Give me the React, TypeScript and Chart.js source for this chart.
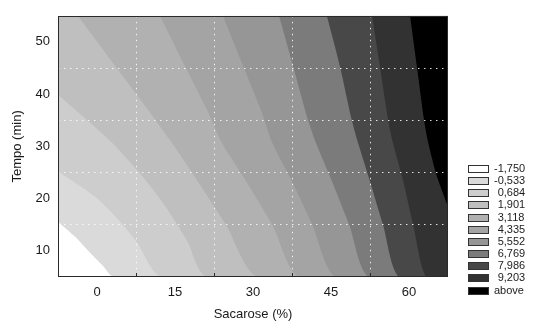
import React, { useEffect, useRef } from 'react';
import { Chart, registerables } from 'chart.js';

Chart.register(...registerables);

// Axis ranges and ticks
const X_MIN = -7.5;
const X_MAX = 67.5;
const Y_MIN = 5;
const Y_MAX = 55;
const xTickValues = [-7.5, 0, 7.5, 15, 22.5, 30, 37.5, 45, 52.5, 60, 67.5];
const xLabelValues = [0, 15, 30, 45, 60];
const xGridValues = [7.5, 22.5, 37.5, 52.5];
const yTickValues = [5, 10, 15, 20, 25, 30, 35, 40, 45, 50, 55];
const yLabelValues = [10, 20, 30, 40, 50];
const yGridValues = [15, 25, 35, 45];

// Contour levels (legend) and band colours (lowest -> "above")
const levelLabels = ['-1,750', '-0,533', '0,684', '1,901', '3,118', '4,335', '5,552', '6,769', '7,986', '9,203', 'above'];
const bandColors = ['#ffffff', '#dadada', '#cdcdcd', '#bfbfbf', '#b1b1b1', '#a4a4a4', '#969696', '#7b7b7b', '#484848', '#323232', '#000000'];

// Contour boundaries (Sacarose %, Tempo min)
const boundary1 = [{ x: -7.5, y: 15.6 }, { x: -4.2, y: 12.7 }, { x: -1.4, y: 9.7 }, { x: 1.0, y: 7.3 }, { x: 3.3, y: 5 }];
const boundary2 = [{ x: -7.5, y: 25.2 }, { x: -3.7, y: 22.7 }, { x: 0.2, y: 19.9 }, { x: 4.0, y: 16.1 }, { x: 7.7, y: 11.6 }, { x: 12.5, y: 5 }];
const boundary3 = [{ x: -7.5, y: 39.9 }, { x: -2.3, y: 35.4 }, { x: 2.9, y: 30.7 }, { x: 8.3, y: 24.8 }, { x: 13.1, y: 18.6 }, { x: 17.3, y: 12.0 }, { x: 21.2, y: 5 }];
const boundary4 = [{ x: -3.7, y: 55 }, { x: 3.5, y: 45.4 }, { x: 9.2, y: 37.8 }, { x: 14.4, y: 30.7 }, { x: 19.4, y: 23.3 }, { x: 24.8, y: 15 }, { x: 31.0, y: 5 }];
const boundary5 = [{ x: 12.1, y: 55 }, { x: 16.9, y: 45.4 }, { x: 21.4, y: 36.5 }, { x: 24.0, y: 30.7 }, { x: 28.7, y: 23.3 }, { x: 33.7, y: 15 }, { x: 39.0, y: 5 }];
const boundary6 = [{ x: 24.2, y: 55 }, { x: 28.1, y: 45.4 }, { x: 31.7, y: 36.5 }, { x: 33.7, y: 30.7 }, { x: 37.5, y: 23.3 }, { x: 41.4, y: 15 }, { x: 46.0, y: 5 }];
const boundary7 = [{ x: 35.0, y: 55 }, { x: 37.7, y: 45.4 }, { x: 40.6, y: 35 }, { x: 42.1, y: 30.7 }, { x: 45.2, y: 23.3 }, { x: 48.5, y: 15 }, { x: 52.3, y: 5 }];
const boundary8 = [{ x: 44.2, y: 55 }, { x: 46.7, y: 45.4 }, { x: 49.0, y: 35 }, { x: 50.2, y: 30.7 }, { x: 52.5, y: 23.3 }, { x: 55.0, y: 15 }, { x: 58.1, y: 5 }];
const boundary9 = [{ x: 52.9, y: 55 }, { x: 54.4, y: 45.4 }, { x: 56.0, y: 35 }, { x: 56.9, y: 30.7 }, { x: 58.9, y: 23.3 }, { x: 60.8, y: 15 }, { x: 63.3, y: 5 }];
const boundary10 = [{ x: 60.2, y: 55 }, { x: 61.5, y: 45.4 }, { x: 62.9, y: 35 }, { x: 63.7, y: 30.7 }, { x: 65.2, y: 24.8 }, { x: 66.4, y: 21.4 }, { x: 67.5, y: 18.4 }];

const boundaries = [boundary1, boundary2, boundary3, boundary4, boundary5, boundary6, boundary7, boundary8, boundary9, boundary10];

const FONT = "'Liberation Sans', Arial, Helvetica, sans-serif";

const frameLegendPlugin = {
  id: 'frameLegend',
  afterDraw(chart: any) {
    const ctx = chart.ctx as CanvasRenderingContext2D;
    const { left, right, top, bottom } = chart.chartArea;
    ctx.save();
    ctx.strokeStyle = '#2a2a2a';
    ctx.lineWidth = 1;
    ctx.strokeRect(Math.round(left) + 0.5, Math.round(top) + 0.5, Math.round(right - left) - 1, Math.round(bottom - top) - 1);
    const xs = chart.scales.x;
    for (const v of xGridValues) {
      const px = Math.round(xs.getPixelForValue(v)) + 0.5;
      ctx.beginPath();
      ctx.moveTo(px, bottom - 1);
      ctx.lineTo(px, bottom - 4);
      ctx.stroke();
    }
    // legend
    ctx.font = `11px ${FONT}`;
    ctx.textBaseline = 'middle';
    ctx.textAlign = 'left';
    const minusW = ctx.measureText('-').width;
    const lx = Math.round(right) + 20;
    levelLabels.forEach((lab, i) => {
      const cy = 168.5 + i * 12.15;
      const by = Math.round(cy - 3.5) + 0.5;
      ctx.fillStyle = bandColors[i];
      ctx.fillRect(lx + 0.5, by, 20, 7);
      ctx.strokeStyle = '#333333';
      ctx.strokeRect(lx + 0.5, by, 20, 7);
      ctx.fillStyle = '#1c1c1c';
      const isNum = /^[0-9]/.test(lab);
      ctx.fillText(lab, lx + 26 + (isNum ? minusW : 0), cy + 0.5);
    });
    ctx.restore();
  },
};

export default function App() {
  const canvasRef = useRef<HTMLCanvasElement | null>(null);

  useEffect(() => {
    const canvas = canvasRef.current;
    if (!canvas) return;
    const datasets = boundaries.map((pts, i) => {
      const last = pts[pts.length - 1];
      const data = last.y === Y_MIN && last.x < X_MAX ? [...pts, { x: X_MAX, y: Y_MIN }] : [...pts];
      return {
        label: levelLabels[i],
        data,
        fill: 'end',
        backgroundColor: bandColors[i + 1],
        borderWidth: 0,
        borderColor: 'rgba(0,0,0,0)',
        pointRadius: 0,
        tension: 0.25,
        order: boundaries.length - i,
      };
    });

    const chart = new Chart(canvas, {
      type: 'line',
      data: { datasets: datasets as any },
      plugins: [frameLegendPlugin],
      options: {
        animation: false,
        responsive: false,
        events: [],
        layout: { padding: { left: 0, right: 109, top: 12, bottom: 0 } },
        plugins: {
          legend: { display: false },
          tooltip: { enabled: false },
          title: { display: false },
        },
        scales: {
          x: {
            type: 'linear',
            min: X_MIN,
            max: X_MAX,
            afterBuildTicks: (scale: any) => {
              scale.ticks = xTickValues.map((v) => ({ value: v }));
            },
            afterFit: (scale: any) => {
              scale.height = 44;
            },
            ticks: {
              autoSkip: false,
              maxRotation: 0,
              minRotation: 0,
              padding: 8,
              color: '#1a1a1a',
              font: { family: FONT, size: 13 },
              callback: (v: any) => (xLabelValues.includes(Number(v)) ? String(v) : ''),
            },
            grid: {
              z: 1,
              drawTicks: false,
              lineWidth: 1,
              color: (c: any) => (c.tick && xGridValues.includes(c.tick.value) ? 'rgba(255,255,255,0.85)' : 'rgba(0,0,0,0)'),
              borderDash: [1.5, 4.5],
            } as any,
            border: { display: false, dash: [1.5, 4.5] } as any,
            title: {
              display: true,
              text: 'Sacarose (%)',
              color: '#1a1a1a',
              font: { family: FONT, size: 13, lineHeight: 1 },
              padding: { top: 0, bottom: 0 },
            },
          },
          y: {
            type: 'linear',
            min: Y_MIN,
            max: Y_MAX,
            afterBuildTicks: (scale: any) => {
              scale.ticks = yTickValues.map((v) => ({ value: v }));
            },
            afterFit: (scale: any) => {
              scale.width = 58;
            },
            ticks: {
              autoSkip: false,
              padding: 8,
              color: '#1a1a1a',
              font: { family: FONT, size: 13 },
              callback: (v: any) => (yLabelValues.includes(Number(v)) ? String(v) : ''),
            },
            grid: {
              z: 1,
              drawTicks: false,
              lineWidth: 1,
              color: (c: any) => (c.tick && yGridValues.includes(c.tick.value) ? 'rgba(255,255,255,0.85)' : 'rgba(0,0,0,0)'),
              borderDash: [1.5, 4.5],
            } as any,
            border: { display: false, dash: [1.5, 4.5] } as any,
            title: {
              display: true,
              text: 'Tempo (min)',
              color: '#1a1a1a',
              font: { family: FONT, size: 13, lineHeight: 1 },
              padding: { top: 11, bottom: 0 },
            },
          },
        },
      },
    });
    return () => chart.destroy();
  }, []);

  return (
    <div style={{ position: 'fixed', left: 0, top: 0, width: 557, height: 321, background: '#ffffff' }}>
      <canvas ref={canvasRef} width={557} height={321} style={{ display: 'block' }} />
    </div>
  );
}
